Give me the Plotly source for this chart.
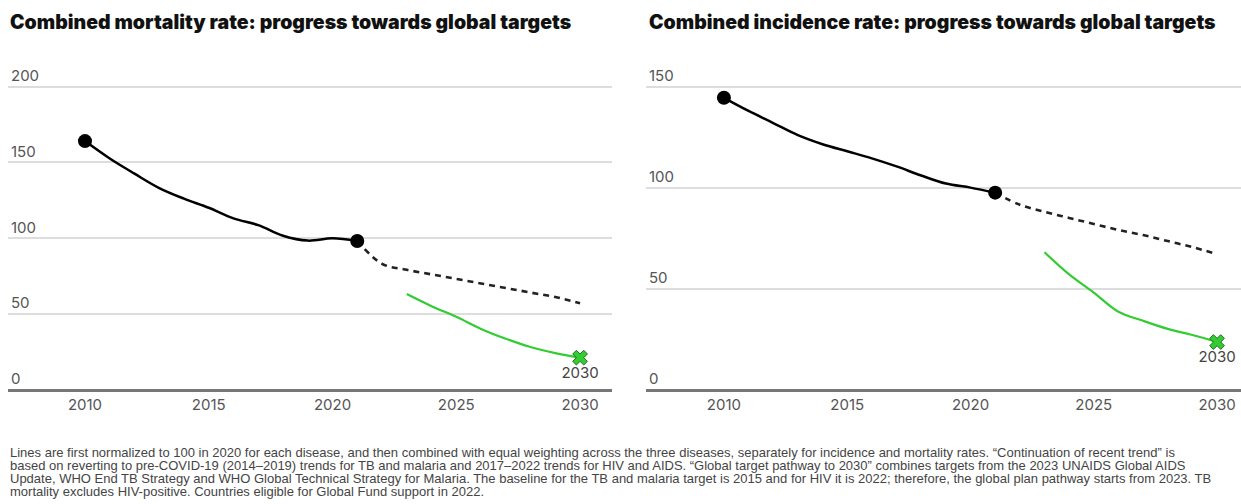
import plotly.graph_objects as go

# ---------------- data ----------------
years_hist = [2010, 2011, 2012, 2013, 2014, 2015, 2016, 2017, 2018, 2019, 2020, 2021]
years_trend = [2021, 2022, 2023, 2024, 2025, 2026, 2027, 2028, 2029, 2030]
years_target = [2023, 2024, 2025, 2026, 2027, 2028, 2029, 2030]

mort_hist = [164, 152.5, 142.5, 133, 126, 120, 113, 108.5, 101.5, 98.3, 99.8, 98]
mort_trend = [98, 83, 79, 76, 73, 70, 67, 64, 61, 57]
mort_target = [63, 55, 48, 40, 33.5, 28, 24, 21]

inc_hist = [144.5, 138, 132, 126, 121.5, 118, 114.5, 110.5, 106, 102, 100, 97.5]
inc_trend = [97.5, 91.5, 88, 85, 82, 79, 76.5, 73.5, 70.5, 67]
inc_target = [68, 57, 48, 38.5, 34, 30, 27, 23.5]

titles = ["Combined mortality rate: progress towards global targets",
          "Combined incidence rate: progress towards global targets"]
x_ticks = [2010, 2015, 2020, 2025, 2030]
y_ticks_mort = [0, 50, 100, 150, 200]
y_ticks_inc = [0, 50, 100, 150]
target_label = "2030"

footnote_lines = [
    "Lines are first normalized to 100 in 2020 for each disease, and then combined with equal weighting across the three diseases, separately for incidence and mortality rates. \u201cContinuation of recent trend\u201d is",
    "based on reverting to pre-COVID-19 (2014\u20132019) trends for TB and malaria and 2017\u20132022 trends for HIV and AIDS. \u201cGlobal target pathway to 2030\u201d combines targets from the 2023 UNAIDS Global AIDS",
    "Update, WHO End TB Strategy and WHO Global Technical Strategy for Malaria. The baseline for the TB and malaria target is 2015 and for HIV it is 2022; therefore, the global plan pathway starts from 2023. TB",
    "mortality excludes HIV-positive. Countries eligible for Global Fund support in 2022.",
]

# ---------------- styles ----------------
W, H = 1241, 504
GREEN = "#33cc33"
GREEN_DARK = "#1e6e1e"
TICK_FONT = dict(family="Inter, Lato, sans-serif", size=15, color="#555555")

fig = go.Figure()

def add_panel(hist, trend, target, xa, ya):
    fig.add_trace(go.Scatter(x=years_hist, y=hist, mode="lines", line=dict(color="black", width=2.5, shape="spline"),
                             xaxis=xa, yaxis=ya, showlegend=False, hoverinfo="skip"))
    fig.add_trace(go.Scatter(x=years_trend, y=trend, mode="lines",
                             line=dict(color="#222222", width=2.6, dash="6px,5px", shape="spline"),
                             xaxis=xa, yaxis=ya, showlegend=False, hoverinfo="skip"))
    fig.add_trace(go.Scatter(x=years_target, y=target, mode="lines", line=dict(color=GREEN, width=2.2, shape="spline"),
                             xaxis=xa, yaxis=ya, showlegend=False, hoverinfo="skip"))
    fig.add_trace(go.Scatter(x=[years_hist[0], years_hist[-1]], y=[hist[0], hist[-1]], mode="markers",
                             marker=dict(color="black", size=14),
                             xaxis=xa, yaxis=ya, showlegend=False, hoverinfo="skip"))
    fig.add_trace(go.Scatter(x=[years_target[-1]], y=[target[-1]], mode="markers+text",
                             marker=dict(color=GREEN, size=13, symbol="x", line=dict(color=GREEN_DARK, width=1)),
                             text=[target_label], textposition="bottom center",
                             textfont=dict(family="Inter, Lato, sans-serif", size=15, color="#444444"),
                             xaxis=xa, yaxis=ya, showlegend=False, hoverinfo="skip"))

add_panel(mort_hist, mort_trend, mort_target, "x", "y")
add_panel(inc_hist, inc_trend, inc_target, "x2", "y2")

ydom = [(H - 389) / H, (H - 67) / H]

xcommon = dict(tickvals=x_ticks, ticktext=[str(v) for v in x_ticks], showgrid=False, zeroline=False,
               showline=True, linecolor="#777777", linewidth=3, ticks="", tickfont=TICK_FONT)
ycommon = dict(showgrid=True, gridcolor="#dddddd", gridwidth=1.5, zeroline=False, showline=False,
               ticks="", ticklabelposition="inside top", ticklabeloverflow="allow", tickfont=TICK_FONT)

fig.update_layout(
    width=W, height=H, margin=dict(l=0, r=0, t=0, b=0),
    paper_bgcolor="white", plot_bgcolor="white",
    xaxis=dict(domain=[8 / W, 612 / W], range=[2006.89, 2031.29], anchor="y", **xcommon),
    xaxis2=dict(domain=[646 / W, 1.0], range=[2006.84, 2030.97], anchor="y2", **xcommon),
    yaxis=dict(domain=ydom, range=[0, 211.8], tickvals=y_ticks_mort, anchor="x", **ycommon),
    yaxis2=dict(domain=ydom, range=[0, 158.9], tickvals=y_ticks_inc, anchor="x2", **ycommon),
)

for i, tx in enumerate([8, 647]):
    fig.add_annotation(text=titles[i], xref="paper", yref="paper", x=tx / W, y=(H - 20) / H,
                       xanchor="left", yanchor="middle", showarrow=False,
                       font=dict(family="Inter, sans-serif", size=19.5, color="#111111", weight=900))

for i, line in enumerate(footnote_lines):
    fig.add_annotation(text=line, xref="paper", yref="paper", x=8 / W, y=(H - (452 + 13 * i)) / H,
                       xanchor="left", yanchor="middle", align="left", showarrow=False,
                       font=dict(family="Liberation Sans, sans-serif", size=13.0, color="#444444"))

fig.write_html("out.html")
